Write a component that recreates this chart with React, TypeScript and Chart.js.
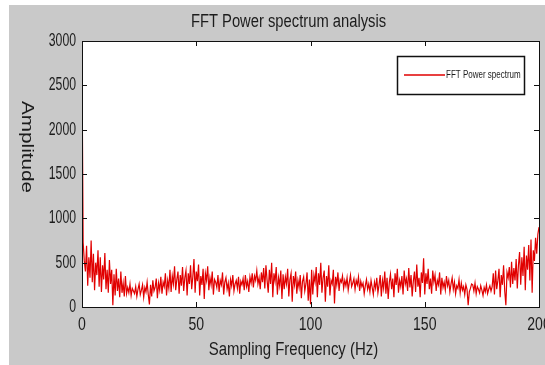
import React, { useEffect, useRef } from "react";
import { Chart, registerables } from "chart.js";

Chart.register(...registerables);

// ---- data (amplitude per 0.5 Hz FFT bin) ----
const FREQ_STEP_HZ = 0.5;
const amp000_010 = [2700, 730, 520, 400, 690, 240, 560, 330, 750, 280, 600, 190, 500, 360, 640, 230, 560, 170, 470, 310];
const amp010_020 = [610, 200, 420, 160, 530, 260, 420, 20, 370, 130, 430, 180, 320, 110, 400, 160, 270, 120, 350, 150];
const amp020_030 = [220, 160, 260, 130, 210, 180, 150, 230, 120, 200, 260, 140, 190, 250, 110, 220, 170, 280, 140, 30];
const amp030_040 = [250, 120, 300, 180, 220, 320, 100, 270, 190, 340, 150, 280, 230, 380, 130, 300, 210, 420, 170, 350];
const amp040_050 = [260, 460, 190, 310, 400, 150, 360, 240, 450, 180, 330, 410, 130, 380, 260, 470, 200, 340, 540, 160];
const amp050_060 = [400, 290, 480, 130, 350, 250, 430, 90, 380, 300, 460, 190, 330, 250, 400, 140, 310, 280, 220, 360];
const amp060_070 = [170, 300, 250, 390, 140, 280, 330, 200, 270, 120, 310, 240, 360, 180, 260, 300, 210, 340, 150, 290];
const amp070_080 = [250, 320, 190, 360, 230, 290, 170, 340, 270, 380, 220, 350, 300, 410, 260, 330, 200, 390, 280, 440];
const amp080_090 = [210, 470, 300, 160, 420, 260, 500, 110, 380, 290, 450, 140, 330, 240, 410, 90, 370, 200, 340, 260];
const amp090_100 = [430, 120, 310, 380, 60, 350, 250, 400, 150, 300, 220, 360, 100, 290, 340, 180, 260, 390, 70, 310];
const amp100_110 = [30, 420, 140, 360, 280, 450, 110, 380, 250, 500, 160, 330, 410, 60, 350, 230, 470, 130, 300, 260];
const amp110_120 = [420, 40, 340, 250, 390, 180, 310, 280, 350, 210, 300, 240, 330, 190, 280, 360, 230, 270, 320, 200];
const amp120_130 = [300, 250, 340, 180, 290, 230, 270, 150, 240, 310, 200, 260, 170, 300, 220, 140, 280, 210, 330, 160];
const amp130_140 = [250, 360, 120, 300, 210, 400, 150, 330, 90, 280, 370, 200, 320, 110, 380, 250, 430, 160, 300, 230];
const amp140_150 = [350, 140, 410, 260, 320, 180, 440, 220, 360, 120, 290, 400, 170, 480, 230, 330, 110, 390, 270, 550];
const amp150_160 = [140, 380, 260, 430, 200, 320, 150, 410, 280, 360, 180, 300, 250, 390, 140, 330, 220, 280, 190, 350];
const amp160_170 = [240, 300, 170, 260, 330, 200, 280, 150, 240, 210, 310, 160, 270, 190, 230, 140, 250, 200, 20, 170];
const amp170_180 = [210, 260, 250, 180, 270, 150, 230, 200, 160, 240, 190, 130, 220, 170, 250, 150, 200, 240, 180, 230];
const amp180_190 = [380, 140, 410, 200, 300, 430, 110, 360, 250, 470, 180, 20, 390, 330, 450, 220, 510, 260, 440, 300];
const amp190_200 = [540, 210, 470, 620, 250, 560, 350, 680, 190, 580, 420, 700, 300, 760, 160, 640, 520, 780, 600, 820];
const amp200 = [900];

const amplitudes = [
  ...amp000_010, ...amp010_020, ...amp020_030, ...amp030_040, ...amp040_050,
  ...amp050_060, ...amp060_070, ...amp070_080, ...amp080_090, ...amp090_100,
  ...amp100_110, ...amp110_120, ...amp120_130, ...amp130_140, ...amp140_150,
  ...amp150_160, ...amp160_170, ...amp170_180, ...amp180_190, ...amp190_200, ...amp200,
];

const xTicks = [0, 50, 100, 150, 200];
const yTicks = [0, 500, 1000, 1500, 2000, 2500, 3000];
const chartTitle = "FFT Power spectrum analysis";
const xTitle = "Sampling Frequency (Hz)";
const yTitle = "Amplitude";
const seriesLabel = "FFT Power spectrum";

const FAMILY = "'Liberation Sans', Arial, Helvetica, sans-serif";
const LINE_RED = "rgb(225,0,0)";
const TEXT = "#1c1c1c";

function drawText(
  ctx: CanvasRenderingContext2D,
  text: string,
  x: number,
  y: number,
  size: number,
  sx: number,
  align: CanvasTextAlign,
  rotate = 0
) {
  ctx.save();
  ctx.translate(x, y);
  if (rotate) ctx.rotate(rotate);
  ctx.scale(sx, 1);
  ctx.font = `${size}px ${FAMILY}`;
  ctx.fillStyle = TEXT;
  ctx.textAlign = align;
  ctx.textBaseline = "middle";
  ctx.fillText(text, 0, 0);
  ctx.restore();
}

const plotBgPlugin = {
  id: "plotBg",
  beforeDraw(chart: any) {
    const { ctx, chartArea: a } = chart;
    ctx.save();
    ctx.fillStyle = "#ffffff";
    ctx.fillRect(a.left, a.top, a.right - a.left, a.bottom - a.top);
    ctx.restore();
  },
};

const framePlugin = {
  id: "frame",
  afterDraw(chart: any) {
    const { ctx, chartArea: a, scales } = chart;
    ctx.save();
    ctx.strokeStyle = "#111";
    ctx.lineWidth = 1;
    ctx.strokeRect(Math.round(a.left) + 0.5, Math.round(a.top) + 0.5, Math.round(a.right - a.left), Math.round(a.bottom - a.top));
    const L = 5;
    ctx.beginPath();
    scales.x.ticks.forEach((t: any) => {
      const px = Math.round(scales.x.getPixelForValue(t.value)) + 0.5;
      ctx.moveTo(px, a.bottom);
      ctx.lineTo(px, a.bottom - L);
      ctx.moveTo(px, a.top);
      ctx.lineTo(px, a.top + L);
    });
    scales.y.ticks.forEach((t: any) => {
      const py = Math.round(scales.y.getPixelForValue(t.value)) + 0.5;
      ctx.moveTo(a.left, py);
      ctx.lineTo(a.left + L, py);
      ctx.moveTo(a.right, py);
      ctx.lineTo(a.right - L, py);
    });
    ctx.stroke();
    ctx.restore();
  },
};

const textPlugin = {
  id: "texts",
  afterDraw(chart: any) {
    const { ctx, chartArea: a, scales } = chart;
    const cx = (a.left + a.right) / 2;
    // title
    drawText(ctx, chartTitle, cx - 22, a.top - 19, 18, 0.82, "center");
    // x ticks
    scales.x.ticks.forEach((t: any) => {
      drawText(ctx, String(t.value), scales.x.getPixelForValue(t.value), a.bottom + 18, 19, 0.74, "center");
    });
    // y ticks
    scales.y.ticks.forEach((t: any) => {
      drawText(ctx, String(t.value), a.left - 6, scales.y.getPixelForValue(t.value), 18, 0.68, "right");
    });
    // x title
    drawText(ctx, xTitle, cx - 17, a.bottom + 43, 18, 0.83, "center");
    // y title, reading downwards
    ctx.save();
    ctx.translate(a.left - 55, a.top + 106);
    ctx.rotate(Math.PI / 2);
    ctx.scale(1.22, 1);
    ctx.font = `17px ${FAMILY}`;
    ctx.fillStyle = TEXT;
    ctx.textAlign = "center";
    ctx.textBaseline = "middle";
    ctx.fillText(yTitle, 0, 0);
    ctx.restore();
  },
};

const boxLegendPlugin = {
  id: "boxLegend",
  afterDraw(chart: any) {
    const { ctx, chartArea: a } = chart;
    const ds = chart.data.datasets[0];
    const w = 127;
    const h = 38;
    const right = a.right - 15;
    const top = a.top + 15;
    const left = right - w;
    ctx.save();
    ctx.fillStyle = "#ffffff";
    ctx.fillRect(left, top, w, h);
    ctx.strokeStyle = "#111";
    ctx.lineWidth = 1.5;
    ctx.strokeRect(Math.round(left) + 0.5, Math.round(top) + 0.5, w, h);
    const cy = top + h / 2;
    ctx.strokeStyle = ds.borderColor;
    ctx.lineWidth = 1.5;
    ctx.beginPath();
    ctx.moveTo(left + 7, cy);
    ctx.lineTo(left + 48, cy);
    ctx.stroke();
    ctx.restore();
    drawText(ctx, ds.label, left + 49, cy, 10, 0.8, "left");
  },
};

export default function App() {
  const canvasRef = useRef<HTMLCanvasElement | null>(null);

  useEffect(() => {
    const canvas = canvasRef.current;
    if (!canvas) return;
    const data = amplitudes.map((v, i) => ({ x: i * FREQ_STEP_HZ, y: v }));
    const chart = new Chart(canvas, {
      type: "line",
      data: {
        datasets: [
          {
            label: seriesLabel,
            data,
            borderColor: LINE_RED,
            backgroundColor: LINE_RED,
            borderWidth: 1.2,
            pointRadius: 0,
            tension: 0,
            fill: false,
          },
        ],
      },
      options: {
        animation: false,
        responsive: false,
        maintainAspectRatio: false,
        layout: { padding: { left: 0, right: 15, top: 36, bottom: 0 } },
        plugins: {
          legend: { display: false },
          tooltip: { enabled: false },
          title: { display: false },
        },
        scales: {
          x: {
            type: "linear",
            min: 0,
            max: 200,
            afterBuildTicks: (s: any) => {
              s.ticks = xTicks.map((v) => ({ value: v }));
            },
            afterFit: (s: any) => {
              s.height = 58;
              s.paddingLeft = 0;
              s.paddingRight = 0;
            },
            grid: { display: false, drawTicks: false },
            border: { display: true, color: "#111" },
            ticks: { display: false },
          },
          y: {
            type: "linear",
            min: 0,
            max: 3000,
            afterBuildTicks: (s: any) => {
              s.ticks = yTicks.map((v) => ({ value: v }));
            },
            afterFit: (s: any) => {
              s.width = 73;
              s.paddingTop = 0;
              s.paddingBottom = 0;
            },
            grid: { display: false, drawTicks: false },
            border: { display: true, color: "#111" },
            ticks: { display: false },
          },
        },
      },
      plugins: [plotBgPlugin, framePlugin, textPlugin, boxLegendPlugin],
    } as any);
    return () => chart.destroy();
  }, []);

  return (
    <div
      style={{
        position: "absolute",
        left: 9,
        top: 5,
        width: 536,
        height: 360,
        overflow: "hidden",
        background: "#c9c9c9",
      }}
    >
      <canvas ref={canvasRef} width={545} height={360} style={{ display: "block", width: 545, height: 360 }} />
    </div>
  );
}
